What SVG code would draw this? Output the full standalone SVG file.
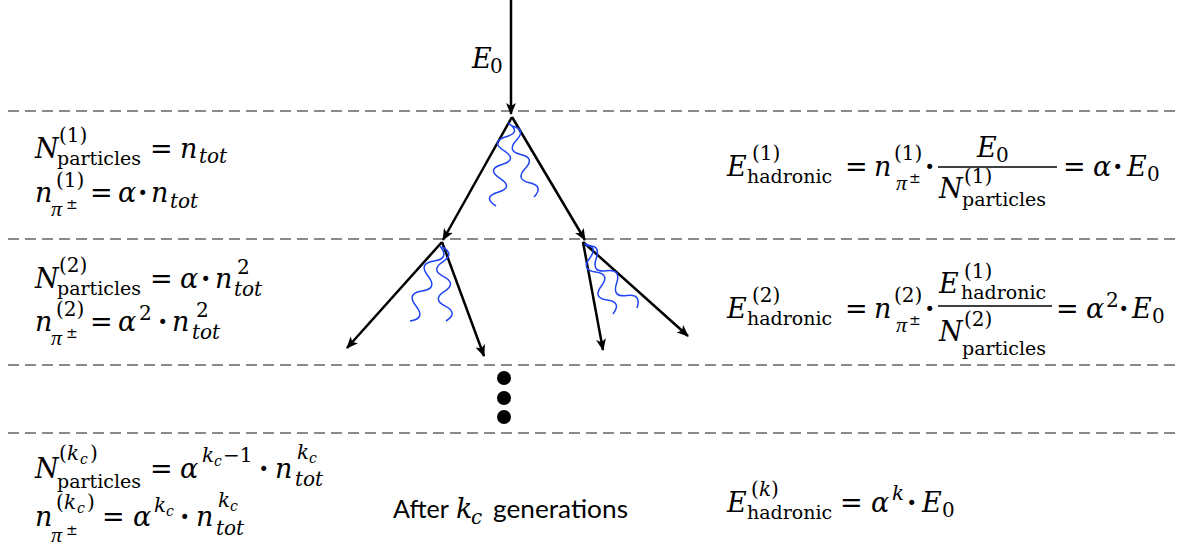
<svg xmlns="http://www.w3.org/2000/svg" width="1182" height="557" viewBox="0 0 1182 557">
<style>
.t{font-family:"DejaVu Serif","Liberation Serif",serif;font-size:27px;fill:#000}
.i{font-style:italic}
.s{font-size:20px}
.w{font-size:19px}
.ss{font-size:14px}
.d{font-weight:bold}
.pi{font-family:"Liberation Serif",serif;font-style:italic;font-size:22px}
.sans{font-family:Lato,"Liberation Sans",sans-serif;font-size:25px;fill:#000}
.dash{stroke:#8a8a8a;stroke-width:2;stroke-dasharray:11 6;fill:none}
.arr{stroke:#000;stroke-width:2.5;fill:none;marker-end:url(#ah)}
.wave{stroke:#1f45f5;stroke-width:1.5;fill:none}
.bar{stroke:#000;stroke-width:1.5}
</style>
<defs>
<marker id="ah" viewBox="0 0 12 10" refX="11" refY="5" markerWidth="12" markerHeight="10" markerUnits="userSpaceOnUse" orient="auto"><path d="M0,0 L12,5 L0,10 L3,5 z" fill="#000"/></marker>
</defs>
<rect width="1182" height="557" fill="#fff"/>
<g id="separators">
<line class="dash" x1="8" y1="111" x2="1176" y2="111"/>
<line class="dash" x1="8" y1="239" x2="1176" y2="239"/>
<line class="dash" x1="8" y1="365" x2="1176" y2="365"/>
<line class="dash" x1="8" y1="433" x2="1176" y2="433"/>
</g>
<g id="connectors">
<line class="arr" x1="511" y1="0" x2="511" y2="114"/>
<line class="arr" x1="512" y1="117" x2="443" y2="240"/>
<line class="arr" x1="512" y1="117" x2="585" y2="240"/>
<line class="arr" x1="442" y1="242" x2="347" y2="348"/>
<line class="arr" x1="442" y1="242" x2="484" y2="356"/>
<line class="arr" x1="583" y1="242" x2="603" y2="350"/>
<line class="arr" x1="583" y1="242" x2="688" y2="336"/>
<path class="wave" d="M508,123 Q522,132 506,136.8 T504,150.7 T502,164.5 T500,178.3 T498,192.2 T496,206"/>
<path class="wave" d="M512,126 Q526.6,129.3 516.4,140.2 T520.8,154.4 T525.2,168.6 T529.6,182.8 T534,197"/>
<path class="wave" d="M440,246 Q450,258.7 434,261 T428,276 T422,291 T416,306 T410,321"/>
<path class="wave" d="M442,247 Q455.4,253.7 442.8,261.8 T443.6,276.6 T444.4,291.4 T445.2,306.2 T446,321"/>
<path class="wave" d="M584,244 Q598.9,246 589.8,258 T595.6,272 T601.4,286 T607.2,300 T613,314"/>
<path class="wave" d="M586,246 Q601.1,243.9 596.2,258.4 T606.4,270.8 T616.6,283.2 T626.8,295.6 T637,308"/>
</g>
<g id="source-label">
<text class="t"><tspan class="i" x="472" y="68">E</tspan><tspan class="s" x="490" y="73">0</tspan></text>
</g>
<g id="dots">
<circle cx="504" cy="378" r="7"/>
<circle cx="504" cy="398" r="7"/>
<circle cx="504" cy="417" r="7"/>
</g>
<g id="left-gen1">
<text class="t"><tspan class="i" x="35" y="158">N</tspan><tspan class="s" x="59" y="142">(1)</tspan><tspan class="w" x="57" y="165">particles</tspan><tspan x="150" y="158">=</tspan><tspan class="i" x="180" y="158">n</tspan><tspan class="s i" x="199" y="163">tot</tspan></text>
<text class="t"><tspan class="i" x="35" y="202">n</tspan><tspan class="s" x="56" y="187">(1)</tspan><tspan class="pi" x="51" y="216">π</tspan><tspan class="ss" x="66" y="209">±</tspan><tspan x="90" y="202">=</tspan><tspan class="i" x="118" y="202">α</tspan><tspan class="d" x="138" y="202">·</tspan><tspan class="i" x="151" y="202">n</tspan><tspan class="s i" x="170" y="208">tot</tspan></text>
</g>
<g id="left-gen2">
<text class="t"><tspan class="i" x="35" y="288">N</tspan><tspan class="s" x="59" y="272">(2)</tspan><tspan class="w" x="57" y="295">particles</tspan><tspan x="150" y="288">=</tspan><tspan class="i" x="180" y="288">α</tspan><tspan class="d" x="201" y="288">·</tspan><tspan class="i" x="215" y="288">n</tspan><tspan class="s" x="237" y="274">2</tspan><tspan class="s i" x="234" y="296">tot</tspan></text>
<text class="t"><tspan class="i" x="35" y="331">n</tspan><tspan class="s" x="56" y="316">(2)</tspan><tspan class="pi" x="51" y="345">π</tspan><tspan class="ss" x="66" y="338">±</tspan><tspan x="90" y="331">=</tspan><tspan class="i" x="118" y="331">α</tspan><tspan class="s" x="139" y="320">2</tspan><tspan class="d" x="158" y="331">·</tspan><tspan class="i" x="172" y="331">n</tspan><tspan class="s" x="196" y="317">2</tspan><tspan class="s i" x="192" y="339">tot</tspan></text>
</g>
<g id="left-genk">
<text class="t"><tspan class="i" x="35" y="478">N</tspan><tspan class="s" x="59" y="460">(</tspan><tspan class="s i" x="67" y="460">k</tspan><tspan class="ss i" x="80" y="464">c</tspan><tspan class="s" x="90" y="460">)</tspan><tspan class="w" x="57" y="488">particles</tspan><tspan x="150" y="478">=</tspan><tspan class="i" x="180" y="478">α</tspan><tspan class="s i" x="202" y="462">k</tspan><tspan class="ss i" x="214" y="466">c</tspan><tspan class="s" x="223" y="462">−1</tspan><tspan class="d" x="259" y="478">·</tspan><tspan class="i" x="275" y="478">n</tspan><tspan class="s i" x="297" y="459">k</tspan><tspan class="ss i" x="309" y="463">c</tspan><tspan class="s i" x="295" y="486">tot</tspan></text>
<text class="t"><tspan class="i" x="35" y="526">n</tspan><tspan class="s" x="56" y="509">(</tspan><tspan class="s i" x="64" y="509">k</tspan><tspan class="ss i" x="77" y="513">c</tspan><tspan class="s" x="87" y="509">)</tspan><tspan class="pi" x="51" y="542">π</tspan><tspan class="ss" x="66" y="535">±</tspan><tspan x="102" y="526">=</tspan><tspan class="i" x="133" y="526">α</tspan><tspan class="s i" x="154" y="512">k</tspan><tspan class="ss i" x="166" y="516">c</tspan><tspan class="d" x="180" y="526">·</tspan><tspan class="i" x="196" y="526">n</tspan><tspan class="s i" x="218" y="507">k</tspan><tspan class="ss i" x="230" y="511">c</tspan><tspan class="s i" x="216" y="535">tot</tspan></text>
</g>
<g id="after-label">
<text class="sans"><tspan x="393" y="518">After</tspan><tspan class="t i" x="456" y="518">k</tspan><tspan class="t i s" x="471" y="524">c</tspan><tspan x="493" y="518" textLength="135" lengthAdjust="spacingAndGlyphs">generations</tspan></text>
</g>
<g id="right-gen1">
<text class="t"><tspan class="i" x="727" y="176">E</tspan><tspan class="s" x="752" y="160">(1)</tspan><tspan class="w" x="747" y="183">hadronic</tspan><tspan x="845" y="176">=</tspan><tspan class="i" x="874" y="176">n</tspan><tspan class="s" x="894" y="160">(1)</tspan><tspan class="pi" x="896" y="190">π</tspan><tspan class="ss" x="909" y="183">±</tspan><tspan class="d" x="925" y="176">·</tspan></text>
<text class="t"><tspan class="i" x="977" y="157">E</tspan><tspan class="s" x="996" y="162">0</tspan></text>
<line class="bar" x1="938" y1="167" x2="1057" y2="167"/>
<text class="t"><tspan class="i" x="939" y="198">N</tspan><tspan class="s" x="964" y="183">(1)</tspan><tspan class="w" x="962" y="206">particles</tspan></text>
<text class="t"><tspan x="1063" y="176">=</tspan><tspan class="i" x="1093" y="176">α</tspan><tspan class="d" x="1113" y="176">·</tspan><tspan class="i" x="1127" y="176">E</tspan><tspan class="s" x="1147" y="181">0</tspan></text>
</g>
<g id="right-gen2">
<text class="t"><tspan class="i" x="727" y="318">E</tspan><tspan class="s" x="752" y="302">(2)</tspan><tspan class="w" x="747" y="325">hadronic</tspan><tspan x="845" y="318">=</tspan><tspan class="i" x="874" y="318">n</tspan><tspan class="s" x="894" y="302">(2)</tspan><tspan class="pi" x="896" y="332">π</tspan><tspan class="ss" x="909" y="325">±</tspan><tspan class="d" x="925" y="318">·</tspan></text>
<text class="t"><tspan class="i" x="939" y="293">E</tspan><tspan class="s" x="964" y="278">(1)</tspan><tspan class="w" x="961" y="299">hadronic</tspan></text>
<line class="bar" x1="938" y1="306" x2="1052" y2="306"/>
<text class="t"><tspan class="i" x="939" y="341">N</tspan><tspan class="s" x="964" y="326">(2)</tspan><tspan class="w" x="962" y="355">particles</tspan></text>
<text class="t"><tspan x="1056" y="318">=</tspan><tspan class="i" x="1086" y="318">α</tspan><tspan class="s" x="1106" y="307">2</tspan><tspan class="d" x="1119" y="318">·</tspan><tspan class="i" x="1132" y="318">E</tspan><tspan class="s" x="1152" y="323">0</tspan></text>
</g>
<g id="right-genk">
<text class="t"><tspan class="i" x="727" y="512">E</tspan><tspan class="s" x="751" y="496">(</tspan><tspan class="s i" x="759" y="496">k</tspan><tspan class="s" x="771" y="496">)</tspan><tspan class="w" x="747" y="519">hadronic</tspan><tspan x="840" y="512">=</tspan><tspan class="i" x="871" y="512">α</tspan><tspan class="s i" x="892" y="500">k</tspan><tspan class="d" x="907" y="512">·</tspan><tspan class="i" x="922" y="512">E</tspan><tspan class="s" x="942" y="517">0</tspan></text>
</g>
</svg>
